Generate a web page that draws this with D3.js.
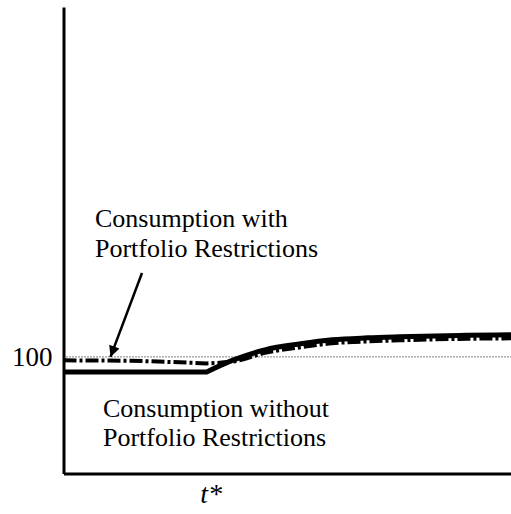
<!DOCTYPE html>
<html>
<head>
<meta charset="utf-8">
<script src="https://cdnjs.cloudflare.com/ajax/libs/d3/7.8.5/d3.min.js"></script>
<style>
  body { margin: 0; background: #fff; }
  svg { display: block; }
</style>
</head>
<body>
<div id="corpo"></div>
<script>
// time points (t* = 32) and consumption index values
var tempo = [0, 15, 26, 32, 38, 45, 53, 60, 68, 75, 83, 90, 100];
var semRestricao = [98.71, 98.71, 98.71, 98.71, 99.74, 100.60, 101.12, 101.46, 101.63, 101.72, 101.80, 101.85, 101.89];
var comRestricao = [99.70, 99.66, 99.53, 99.44, 99.61, 100.34, 100.82, 101.16, 101.33, 101.42, 101.50, 101.55, 101.59];
var tStar = 32;
var nivelBase = 100;

var width = 511, height = 514;
var fonte = "Liberation Serif";

var svg = d3.select("#corpo").append("svg")
	.attr("width", width)
	.attr("height", height)
	.attr("font-family", fonte);

var x = d3.scaleLinear().domain([0, 100]).range([63.5, 511]);
var y = d3.scaleLinear().domain([90, 130]).range([473.5, 7]);

var serie = function(vals) {
	return tempo.map(function(t, i) { return [t, vals[i]]; });
};

var line = d3.line()
	.x(function(d) { return x(d[0]); })
	.y(function(d) { return y(d[1]); })
	.curve(d3.curveMonotoneX);

// split at t* so the kink stays sharp
var antes = function(d) { return d[0] <= tStar; };
var depois = function(d) { return d[0] >= tStar; };

/* linha pontilhada em 100 */
svg.append("line")
	.attr("x1", x(0)).attr("x2", x(100))
	.attr("y1", y(nivelBase)).attr("y2", y(nivelBase))
	.attr("stroke", "#000")
	.attr("stroke-width", 1)
	.attr("stroke-dasharray", "1,2");

// consumo sem restricoes (solid)
var sem = serie(semRestricao);
svg.append("path")
	.attr("d", line(sem.filter(antes)) + line(sem.filter(depois)).replace(/^M/, "L"))
	.attr("fill", "none")
	.attr("stroke", "#000")
	.attr("stroke-width", 5);

// consumo com restricoes (dash-dot)
var com = serie(comRestricao);
svg.append("path")
	.attr("d", line(com.filter(antes)) + line(com.filter(depois)).replace(/^M/, "L"))
	.attr("fill", "none")
	.attr("stroke", "#000")
	.attr("stroke-width", 4)
	.attr("stroke-dasharray", "13,3,3,3");

/*=== eixos ===*/
var yAxis = d3.axisLeft(y)
	.tickValues([nivelBase])
	.tickSize(0)
	.tickSizeOuter(0)
	.tickPadding(11)
	.tickFormat(d3.format("d"));

var gy = svg.append("g")
	.attr("transform", "translate(" + x(0) + ",0)")
	.call(yAxis);
gy.attr("font-family", fonte);
gy.select(".domain").attr("stroke-width", 3);
gy.selectAll("text")
	.attr("font-family", fonte)
	.attr("font-size", 27)
	.attr("dy", "0.32em");

var xAxis = d3.axisBottom(x)
	.tickValues([tStar])
	.tickSize(0)
	.tickSizeOuter(0)
	.tickFormat(function() { return "t*"; });

var gx = svg.append("g")
	.attr("transform", "translate(0," + y(90) + ")")
	.call(xAxis);
gx.attr("font-family", fonte);
gx.select(".domain").attr("stroke-width", 3);
gx.selectAll("text")
	.attr("font-family", fonte)
	.attr("y", 29.5)
	.attr("dy", 0)
	.attr("dx", 4)
	.attr("font-size", 28)
	.attr("font-style", "italic");

/*=== rotulos ===*/
var fs = 26;
var rotulos = [
	["Consumption with", 95, 227],
	["Portfolio Restrictions", 95, 257],
	["Consumption without", 103, 417],
	["Portfolio Restrictions", 103, 446]
];
rotulos.forEach(function(r) {
	svg.append("text")
		.attr("x", r[1]).attr("y", r[2])
		.attr("font-family", fonte)
		.attr("font-size", fs)
		.attr("fill", "#000")
		.text(r[0]);
});

// seta
svg.append("defs").append("marker")
	.attr("id", "seta")
	.attr("viewBox", "0 0 10 10")
	.attr("refX", 10).attr("refY", 5)
	.attr("markerUnits", "userSpaceOnUse")
	.attr("markerWidth", 16).attr("markerHeight", 11)
	.attr("orient", "auto")
	.append("path")
	.attr("d", "M0,0 L10,5 L0,10 Z")
	.attr("fill", "#000");

svg.append("line")
	.attr("x1", 142).attr("y1", 273)
	.attr("x2", x(10.5)).attr("y2", y(nivelBase))
	.attr("stroke", "#000")
	.attr("stroke-width", 2.5)
	.attr("marker-end", "url(#seta)");
</script>
</body>
</html>
